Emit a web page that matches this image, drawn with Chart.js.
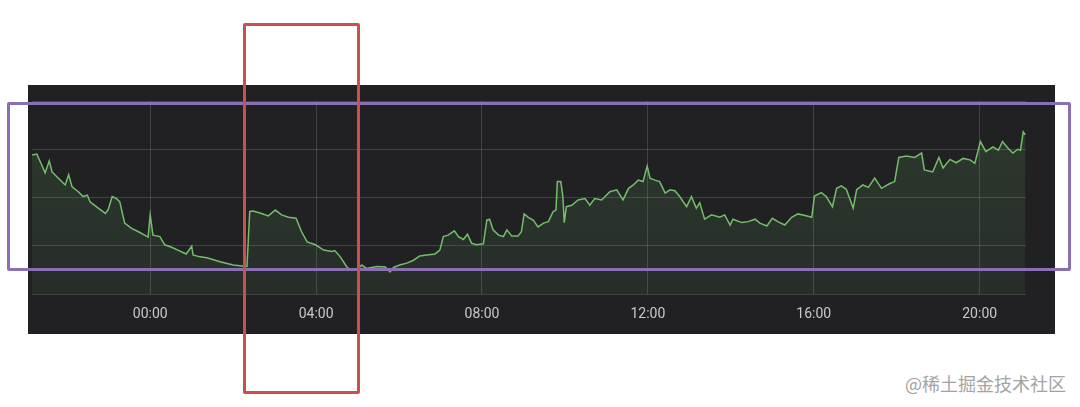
<!DOCTYPE html>
<html>
<head>
<meta charset="utf-8">
<script src="https://cdn.jsdelivr.net/npm/chart.js@4"></script>
<style>
  html, body { margin: 0; padding: 0; background: #ffffff; width: 1080px; height: 407px; overflow: hidden; position: relative; }
  #panel { position: absolute; left: 28px; top: 85px; width: 1027px; height: 249px; background: #212124; }
  #panel canvas { display: block; }
  .box { position: absolute; box-sizing: border-box; pointer-events: none; border-radius: 2px; }
  #purple { left: 7px; top: 102px; width: 1064px; height: 169px; border: 3px solid #8b6fb3; }
  #red { left: 243px; top: 23px; width: 117px; height: 371px; border: 3px solid #c9504c; }
  #wm { position: absolute; left: 905px; top: 372px; font-family: "Noto Sans CJK SC", sans-serif; font-size: 18px; color: #a3a3a3; white-space: nowrap; line-height: 22px; }
</style>
</head>
<body>
<div id="panel"><canvas id="c"></canvas></div>
<div id="purple" class="box"></div>
<div id="red" class="box"></div>
<div id="wm">@稀土掘金技术社区</div>
<script>
// minutes relative to 00:00 (negative = previous evening)
const minutes = [
  -171,-164,-159,-152,-146,-142,-135,-128,-123,-118,-113,-104,-97,-91,-87,-78,-65,-61,-55,-49,
  -44,-37,-27,-17,-8,-3,0,4,14,21,31,40,52,60,62,72,82,101,120,133,
  140,144,149,161,171,181,190,200,211,219,227,239,251,263,267,275,284,289,299,306,
  313,328,340,347,352,361,371,381,390,400,412,419,424,431,440,446,453,459,465,472,
  482,487,491,496,504,511,516,523,532,537,541,547,554,561,569,576,583,587,589,594,
  597,599,602,610,619,629,636,643,653,665,675,684,692,699,706,713,719,723,730,737,
  745,752,759,766,776,783,790,795,802,812,824,831,839,843,856,865,875,882,892,900,
  908,918,928,937,949,957,961,971,978,987,993,1000,1007,1017,1022,1031,1039,1048,1058,1070,
  1077,1083,1094,1106,1116,1120,1132,1141,1147,1157,1166,1176,1186,1193,1201,1209,1219,1227,1233,1241,
  1248,1255,1259,1263,1266
];
const values = [
  2.88,2.90,2.74,2.51,2.76,2.53,2.43,2.33,2.26,2.47,2.22,2.12,2.02,2.05,1.91,1.81,1.67,1.74,2.02,1.98,
  1.91,1.47,1.36,1.29,1.22,1.18,1.64,1.22,1.19,1.02,0.97,0.91,0.83,0.99,0.81,0.77,0.75,0.67,0.60,0.58,
  0.57,1.71,1.72,1.67,1.62,1.74,1.64,1.59,1.57,1.29,1.08,1.02,0.91,0.88,0.90,0.77,0.57,0.50,0.50,0.60,
  0.53,0.57,0.56,0.46,0.55,0.60,0.64,0.70,0.79,0.81,0.83,0.91,1.19,1.22,1.31,1.19,1.13,1.24,1.05,1.02,
  1.04,1.53,1.55,1.33,1.22,1.19,1.33,1.20,1.20,1.29,1.66,1.59,1.53,1.39,1.47,1.50,1.71,1.74,2.33,2.33,
  2.02,1.48,1.81,1.84,1.95,1.98,1.84,1.98,1.95,2.12,2.16,1.95,2.19,2.26,2.36,2.33,2.65,2.40,2.36,2.33,
  2.09,2.16,2.14,2.02,1.81,2.02,1.78,1.89,1.55,1.64,1.59,1.64,1.43,1.55,1.48,1.50,1.55,1.47,1.41,1.57,
  1.50,1.43,1.59,1.66,1.62,1.59,2.03,2.10,2.02,1.81,2.19,2.24,2.17,1.78,2.16,2.26,2.21,2.40,2.19,2.29,
  2.33,2.83,2.86,2.83,2.92,2.57,2.53,2.83,2.61,2.79,2.72,2.81,2.78,2.71,3.16,2.95,3.05,2.98,3.16,3.02,
  2.92,3.00,2.98,3.36,3.30
];
const tickMinutes = [0, 240, 480, 720, 960, 1200];
const tickLabels = ["00:00", "04:00", "08:00", "12:00", "16:00", "20:00"];

const points = minutes.map((m, i) => ({ x: m, y: values[i] }));
const gridColor = 'rgba(255,255,255,0.15)';

new Chart(document.getElementById('c'), {
  type: 'line',
  data: {
    datasets: [{
      data: points,
      borderColor: '#73bf69',
      borderWidth: 1.5,
      pointRadius: 0,
      tension: 0,
      fill: 'origin',
      backgroundColor: (ctx) => {
        const { chart } = ctx;
        const area = chart.chartArea;
        if (!area) return 'rgba(115,191,105,0.1)';
        const g = chart.ctx.createLinearGradient(0, area.top, 0, area.bottom);
        g.addColorStop(0, 'rgba(115,191,105,0.16)');
        g.addColorStop(1, 'rgba(115,191,105,0.08)');
        return g;
      }
    }]
  },
  options: {
    responsive: true,
    maintainAspectRatio: false,
    animation: false,
    layout: { padding: { left: 4, top: 16, right: 29, bottom: 0 } },
    plugins: { legend: { display: false }, tooltip: { enabled: false } },
    scales: {
      x: {
        type: 'linear',
        min: -171,
        max: 1267,
        afterBuildTicks: (scale) => { scale.ticks = tickMinutes.map(v => ({ value: v })); },
        afterFit: (scale) => { scale.height = 40; },
        ticks: {
          autoSkip: false,
          maxRotation: 0,
          padding: 12,
          color: '#c8c8c8',
          font: { family: 'Roboto', size: 14 },
          callback: (v) => { const i = tickMinutes.indexOf(v); return i >= 0 ? tickLabels[i] : ''; }
        },
        grid: { color: gridColor, drawTicks: false, lineWidth: 1 },
        border: { display: false }
      },
      y: {
        min: 0,
        max: 4,
        afterFit: (scale) => { scale.width = 0; },
        ticks: { display: false, stepSize: 1 },
        grid: { color: gridColor, drawTicks: false, lineWidth: 1 },
        border: { display: false }
      }
    }
  }
});
</script>
</body>
</html>
